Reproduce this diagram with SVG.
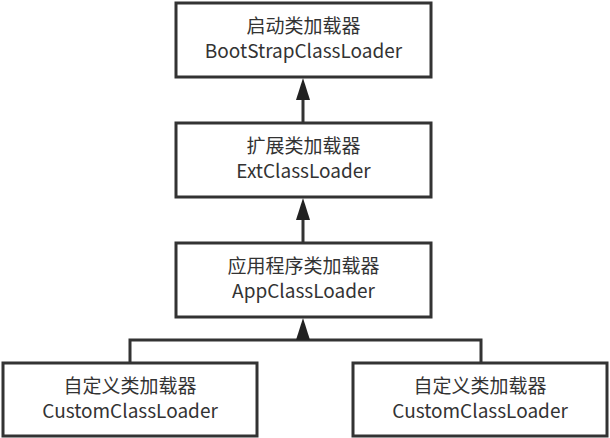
<svg xmlns="http://www.w3.org/2000/svg" width="610" height="438" viewBox="0 0 610 438">
<style>
.box{fill:#fff;stroke:#333;stroke-width:3}
.t{font-family:"Microsoft YaHei","Noto Sans CJK SC","Noto Sans",sans-serif;font-size:19px;fill:#333;text-anchor:middle}
.c{fill:none;stroke:#333;stroke-width:3}
.ah{fill:#222;stroke:none}
</style>
<rect width="610" height="438" fill="#fff"/>
<g id="connectors">
<line class="c" x1="303" y1="122" x2="303" y2="96"/>
<polygon class="ah" points="303,78 296,100 310,100"/>
<line class="c" x1="303" y1="242" x2="303" y2="216"/>
<polygon class="ah" points="303,198 296,220 310,220"/>
<polyline class="c" points="130,362 130,340 481,340 481,362"/>
<line class="c" x1="303" y1="340" x2="303" y2="334"/>
<polygon class="ah" points="303,318 296,340 310,340"/>
</g>
<g id="bootstrap">
<rect class="box" x="176" y="3" width="255" height="74"/>
<text class="t" x="303.5" y="33">启动类加载器</text>
<text class="t" x="303.5" y="58">BootStrapClassLoader</text>
</g>
<g id="ext">
<rect class="box" x="176" y="123" width="255" height="74"/>
<text class="t" x="303.5" y="153">扩展类加载器</text>
<text class="t" x="303.5" y="178">ExtClassLoader</text>
</g>
<g id="app">
<rect class="box" x="176" y="243" width="255" height="74"/>
<text class="t" x="303.5" y="273">应用程序类加载器</text>
<text class="t" x="303.5" y="298">AppClassLoader</text>
</g>
<g id="custom1">
<rect class="box" x="3" y="363" width="254" height="73"/>
<text class="t" x="130" y="393">自定义类加载器</text>
<text class="t" x="130" y="418">CustomClassLoader</text>
</g>
<g id="custom2">
<rect class="box" x="353" y="363" width="254" height="73"/>
<text class="t" x="480" y="393">自定义类加载器</text>
<text class="t" x="480" y="418">CustomClassLoader</text>
</g>
</svg>
